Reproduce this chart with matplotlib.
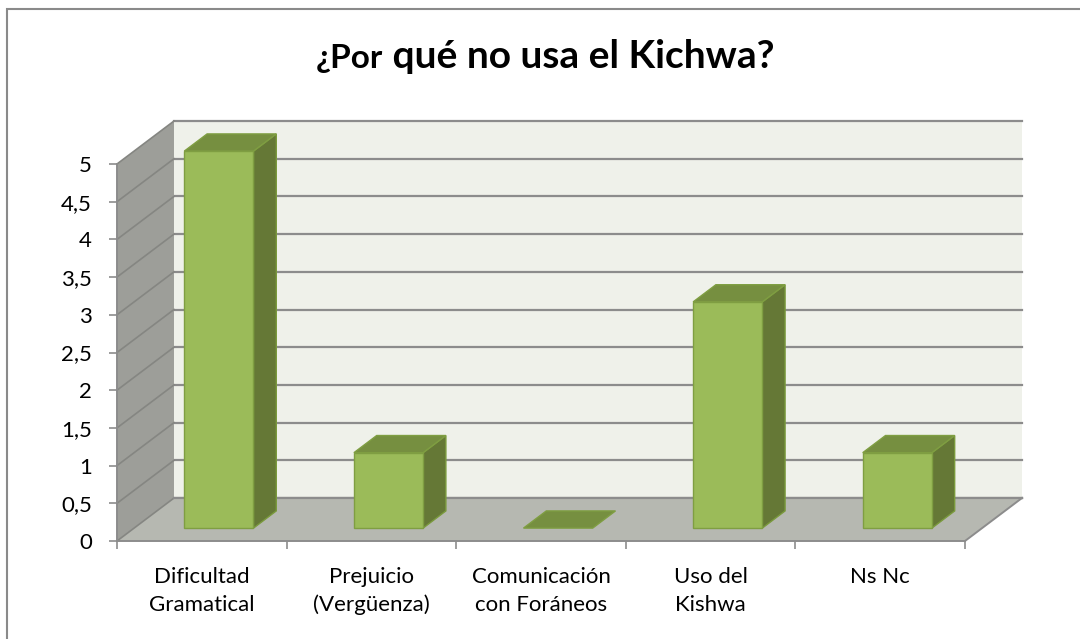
import matplotlib
matplotlib.use("Agg")
import matplotlib.pyplot as plt
from matplotlib.patches import Polygon, Rectangle

plt.rcParams['font.family'] = ['Lato', 'DejaVu Sans']

# data
categorias = ["Dificultad\nGramatical", "Prejuicio\n(Vergüenza)", "Comunicación\ncon Foráneos",
              "Uso del\nKishwa", "Ns Nc"]
valores = [5, 1, 0, 3, 1]
y_ticks = [0, 0.5, 1, 1.5, 2, 2.5, 3, 3.5, 4, 4.5, 5]
y_labels = ["0", "0,5", "1", "1,5", "2", "2,5", "3", "3,5", "4", "4,5", "5"]

# 3d look (oblique offset for the full depth, in data units)
DX, DY = 0.336, 0.57
F0, F1 = 0.3, 0.7      # bar front / back depth
HW = 0.204             # half bar width

grid_c = '#8c8c8c'
fig = plt.figure(figsize=(10.8, 6.39), dpi=100)
fig.patches.append(Rectangle((7 / 1080, -0.1), 1.2, (639 - 9) / 639 + 0.1, transform=fig.transFigure,
                             fill=False, edgecolor='#8a8a8a', linewidth=1.5))

ax = fig.add_axes([117 / 1080, (639 - 541) / 639, 848 / 1080, 377 / 639])
ax.set_xlim(0, 5)
ax.set_ylim(0, 5)
ax.patch.set_visible(False)
n = len(categorias)
top = y_ticks[-1]

def poly(pts, fc, ec='none', lw=0, z=1):
    ax.add_patch(Polygon(pts, closed=True, facecolor=fc, edgecolor=ec, linewidth=lw,
                         clip_on=False, zorder=z))

# back wall
poly([(DX, DY), (n + DX, DY), (n + DX, top + DY), (DX, top + DY)], '#eff1ea', z=1)
for v in y_ticks:
    ax.plot([DX, n + DX], [v + DY, v + DY], color=grid_c, lw=1.6, clip_on=False, zorder=2)
# side wall
poly([(0, 0), (DX, DY), (DX, top + DY), (0, top)], '#9d9e99', z=3)
for v in y_ticks:
    ax.plot([0, DX], [v, v + DY], color='#858682', lw=1.2, clip_on=False, zorder=4)
# floor
poly([(0, 0), (n, 0), (n + DX, DY), (DX, DY)], '#b6b8b1', z=3)
ax.plot([DX, n + DX], [DY, DY], color=grid_c, lw=1.6, clip_on=False, zorder=4)
ax.plot([n, n + DX], [0, DY], color=grid_c, lw=1.4, clip_on=False, zorder=4)

# bars
for i, v in enumerate(valores):
    xc = i + 0.5
    x0, x1 = xc - HW, xc + HW
    if v > 0:
        poly([(x0 + F0 * DX, F0 * DY), (x1 + F0 * DX, F0 * DY),
              (x1 + F0 * DX, v + F0 * DY), (x0 + F0 * DX, v + F0 * DY)],
             '#9bbb59', '#7f9e42', 1.0, z=6)
        poly([(x1 + F0 * DX, F0 * DY), (x1 + F1 * DX, F1 * DY),
              (x1 + F1 * DX, v + F1 * DY), (x1 + F0 * DX, v + F0 * DY)],
             '#657836', '#7a9a3c', 1.0, z=5)
    poly([(x0 + F0 * DX, v + F0 * DY), (x1 + F0 * DX, v + F0 * DY),
          (x1 + F1 * DX, v + F1 * DY), (x0 + F1 * DX, v + F1 * DY)],
         '#768f40', '#7f9e42', 1.0, z=5)

# axes
for s in ['top', 'right']:
    ax.spines[s].set_visible(False)
for s in ['left', 'bottom']:
    ax.spines[s].set_color(grid_c)
    ax.spines[s].set_linewidth(1.4)
    ax.spines[s].set_zorder(7)
ax.set_yticks(y_ticks)
ax.set_yticklabels(y_labels)
ax.set_xticks(range(n + 1))
ax.set_xticklabels([])
ax.set_xticks([i + 0.5 for i in range(n)], minor=True)
ax.set_xticklabels(categorias, minor=True)
ax.tick_params(axis='y', length=6, width=1.2, color=grid_c, pad=12, labelsize=16)
ax.tick_params(axis='x', which='major', length=6, width=1.2, color=grid_c)
ax.tick_params(axis='x', which='minor', length=0, pad=19, labelsize=16)
for lab in ax.get_xticklabels(minor=True):
    lab.set_linespacing(1.45)

# title, "¿Por" a bit smaller than the rest
t1 = fig.text(0, 1 - 68 / 639, "¿Por", fontsize=24, fontweight='bold', va='baseline')
t2 = fig.text(0, 1 - 68 / 639, " qué no usa el Kichwa?", fontsize=28, fontweight='bold', va='baseline')
r = fig.canvas.get_renderer()
w1 = t1.get_window_extent(r).width
w2 = t2.get_window_extent(r).width
x_start = 545 - (w1 + w2) / 2
t1.set_x(x_start / 1080)
t2.set_x((x_start + w1) / 1080)

fig.savefig("out.png", dpi=100)
